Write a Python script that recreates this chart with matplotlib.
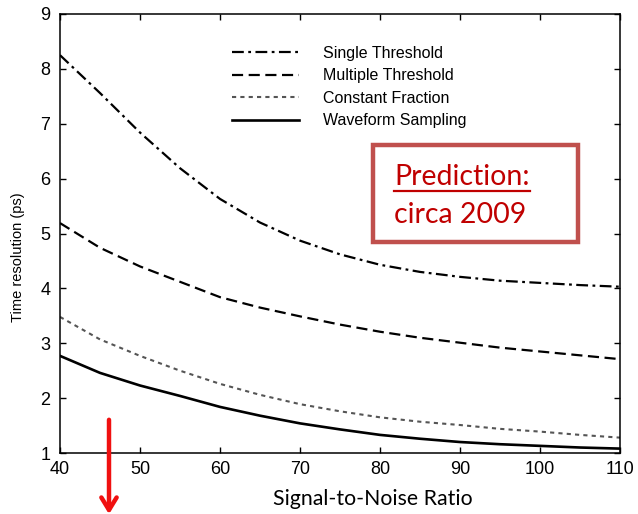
import numpy as np
import matplotlib
matplotlib.use("Agg")
import matplotlib.pyplot as plt
from matplotlib.patches import Rectangle
from matplotlib.lines import Line2D

# values
snr = [40, 45, 50, 55, 60, 65, 70, 75, 80, 85, 90, 95, 100, 105, 110]
single_thr = [8.25, 7.56, 6.84, 6.19, 5.63, 5.20, 4.87, 4.62, 4.43, 4.30, 4.21, 4.14, 4.10, 4.06, 4.03]
multi_thr = [5.19, 4.74, 4.40, 4.12, 3.84, 3.65, 3.49, 3.34, 3.21, 3.10, 3.01, 2.92, 2.85, 2.78, 2.71]
const_frac = [3.48, 3.07, 2.77, 2.50, 2.26, 2.06, 1.89, 1.76, 1.65, 1.57, 1.51, 1.44, 1.39, 1.33, 1.28]
wave_samp = [2.77, 2.46, 2.23, 2.04, 1.84, 1.68, 1.54, 1.43, 1.33, 1.26, 1.20, 1.16, 1.13, 1.10, 1.08]
labels = ["Single Threshold", "Multiple Threshold", "Constant Fraction", "Waveform Sampling"]
xticks = [40, 50, 60, 70, 80, 90, 100, 110]
yticks = [1, 2, 3, 4, 5, 6, 7, 8, 9]

plt.rcParams['font.family'] = ['Liberation Sans', 'DejaVu Sans']
plt.rcParams['lines.scale_dashes'] = False

fig = plt.figure(figsize=(6.38, 5.14), dpi=100)
ax = fig.add_axes([60 / 638, 61 / 514, 560 / 638, 439 / 514])

ax.plot(snr, single_thr, color='black', lw=1.6, dashes=(8.5, 3.2, 2, 3.2), label=labels[0])
ax.plot(snr, multi_thr, color='black', lw=1.6, dashes=(8, 4), label=labels[1])
ax.plot(snr, const_frac, color='#555555', lw=1.5, dashes=(3, 3), label=labels[2])
ax.plot(snr, wave_samp, color='black', lw=1.9, label=labels[3])

ax.set_xlim(40, 110)
ax.set_ylim(1, 9)
ax.set_xticks(xticks)
ax.set_yticks(yticks)
ax.tick_params(direction='in', top=True, right=True, length=4, width=1,
               labelsize=13, colors='black')
ax.tick_params(axis='x', pad=6)
ax.tick_params(axis='y', pad=7)
for s in ax.spines.values():
    s.set_linewidth(1.1)

ax.set_ylabel("Time resolution (ps)", fontsize=10.5, va='center')
ax.yaxis.set_label_coords(-0.075, 0.445)

ax.legend(loc='upper left', bbox_to_anchor=(0.307, 0.928), frameon=False,
          fontsize=11.5, handlelength=4.2, handletextpad=1.5, labelspacing=0.47,
          borderpad=0, borderaxespad=0)

fig.text(273 / 638, (514 - 505) / 514, "Signal-to-Noise Ratio", family='Lato',
         fontsize=15.3, va='baseline', ha='left')

# annotation box
box = Rectangle((373 / 638, (514 - 242) / 514), 205 / 638, 97 / 514,
                transform=fig.transFigure, facecolor='white', edgecolor='#C0504D', lw=3.2)
fig.add_artist(box)
t1 = fig.text(394 / 638, (514 - 185) / 514, "Prediction:", family='Lato',
              fontsize=20.5, color='#C00000', va='baseline')
fig.text(394 / 638, (514 - 223) / 514, "circa 2009", family='Lato',
         fontsize=20.5, color='#C00000', va='baseline')
fig.canvas.draw()
bb = t1.get_window_extent()
uy = (514 - 191) / 514
fig.add_artist(Line2D([bb.x0 / 638, bb.x1 / 638], [uy, uy], transform=fig.transFigure,
                      color='#C00000', lw=1.6))

# red arrow
ax.annotate('', xy=(109, -3), xytext=(109, 97), xycoords='figure pixels',
            textcoords='figure pixels',
            arrowprops=dict(arrowstyle='->,head_length=0.9,head_width=0.55',
                            color='#F01010', lw=3.2), annotation_clip=False)

fig.savefig("out.png", dpi=100)
